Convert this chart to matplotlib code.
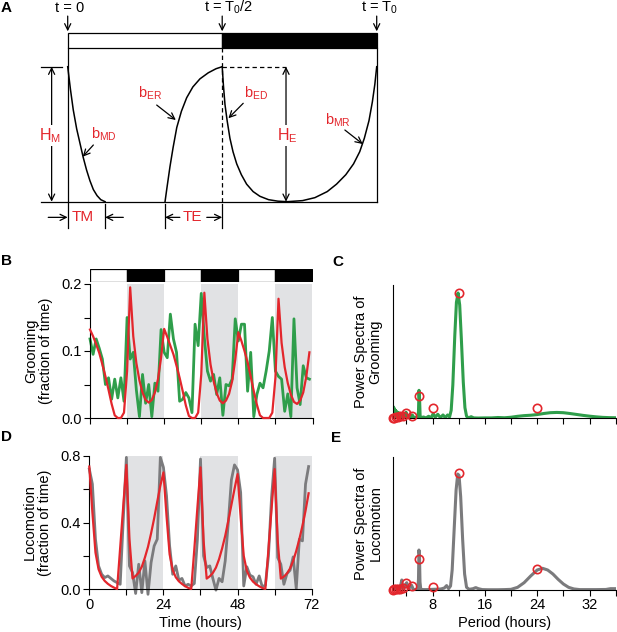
import matplotlib
matplotlib.use('Agg')
import matplotlib.pyplot as plt
import numpy as np

plt.rcParams['font.family'] = ['Liberation Sans', 'DejaVu Sans']
plt.rcParams['mathtext.fontset'] = 'custom'
plt.rcParams['mathtext.rm'] = 'Liberation Sans'
plt.rcParams['mathtext.it'] = 'Liberation Sans:italic'
plt.rcParams['mathtext.bf'] = 'Liberation Sans:bold'
plt.rcParams['mathtext.default'] = 'regular'

RED = '#e3262c'
GREEN = '#2f9e4b'
GRAY = '#7b7b7d'
SHADE = '#e1e2e4'

# ---------------- data ----------------
hours = list(range(72))
groom_obs = [0.118, 0.095, 0.118, 0.104, 0.088, 0.050, 0.060, 0.028, 0.058, 0.030, 0.060, 0.025,
             0.150, 0.088, 0.098, 0.042, 0.002, 0.065, 0.022, 0.050, 0.002, 0.052, 0.040, 0.132,
             0.098, 0.090, 0.155, 0.118, 0.098, 0.025, 0.028, 0.038, 0.030, 0.008, 0.140, 0.108,
             0.186, 0.120, 0.070, 0.055, 0.065, 0.035, 0.060, 0.004, 0.050, 0.048, 0.058, 0.148,
             0.115, 0.140, 0.140, 0.040, 0.098, 0.002, 0.035, 0.052, 0.045, 0.070, 0.100, 0.150,
             0.070, 0.062, 0.058, 0.010, 0.036, 0.002, 0.148, 0.045, 0.020, 0.078, 0.060, 0.058]
groom_fit = [0.132, 0.122, 0.110, 0.097, 0.080, 0.062, 0.042, 0.021, 0.004, 0.0, 0.0, 0.008,
             0.070, 0.195, 0.122, 0.082, 0.056, 0.038, 0.027, 0.023, 0.027, 0.038, 0.058, 0.090,
             0.133, 0.121, 0.108, 0.095, 0.078, 0.060, 0.040, 0.019, 0.003, 0.0, 0.0, 0.008,
             0.065, 0.187, 0.118, 0.080, 0.055, 0.037, 0.026, 0.022, 0.026, 0.036, 0.055, 0.087,
             0.128, 0.115, 0.100, 0.083, 0.062, 0.040, 0.020, 0.004, 0.0, 0.0, 0.0, 0.008,
             0.060, 0.178, 0.112, 0.076, 0.052, 0.035, 0.024, 0.021, 0.026, 0.038, 0.062, 0.098]
loco_obs = [0.72, 0.63, 0.30, 0.14, 0.09, 0.07, 0.08, 0.065, 0.05, 0.04, 0.03, 0.42,
            0.79, 0.14, 0.10, -0.025, 0.15, -0.02, 0.17, -0.03, 0.16, 0.26, 0.30, 0.79,
            0.73, 0.56, 0.26, 0.09, 0.14, 0.055, 0.065, 0.02, 0.03, 0.02, 0.035, 0.30,
            0.78, 0.20, 0.13, 0.14, 0.065, -0.005, 0.065, 0.045, 0.17, 0.40, 0.655, 0.745,
            0.715, 0.58, 0.02, 0.135, 0.085, 0.075, 0.03, 0.08, 0.015, 0.025, 0.20, 0.55,
            0.785, 0.19, 0.15, 0.03, 0.094, 0.114, 0.194, 0.004, 0.30, 0.29, 0.63, 0.735]
loco_fit = [0.735, 0.46, 0.22, 0.12, 0.075, 0.05, 0.033, 0.02, 0.01, 0.002, 0.25, 0.50,
            0.745, 0.30, 0.065, 0.08, 0.10, 0.135, 0.19, 0.254, 0.335, 0.425, 0.525, 0.62,
            0.70, 0.44, 0.21, 0.115, 0.072, 0.048, 0.032, 0.019, 0.009, 0.002, 0.24, 0.49,
            0.73, 0.29, 0.064, 0.078, 0.098, 0.13, 0.18, 0.245, 0.32, 0.41, 0.505, 0.60,
            0.69, 0.43, 0.20, 0.11, 0.07, 0.046, 0.03, 0.018, 0.008, 0.002, 0.24, 0.48,
            0.72, 0.29, 0.064, 0.076, 0.095, 0.125, 0.17, 0.23, 0.30, 0.38, 0.47, 0.575]

phase_starts = [0, 12, 24, 36, 48, 60]
phase_colors = ['white', 'black', 'white', 'black', 'white', 'black']
dark_starts = [12, 36, 60]

# power spectra (period in hours, arbitrary power units)
groom_period = [2.0, 2.04, 2.08, 2.12, 2.17, 2.22, 2.28, 2.35, 2.42, 2.5, 2.58, 2.67, 2.76, 2.86,
                2.97, 3.08, 3.2, 3.33, 3.47, 3.62, 3.78, 3.95, 4.15, 4.4, 4.65, 4.9, 5.2, 5.5,
                5.75, 5.85, 5.93, 6.02, 6.1, 6.25, 6.6, 7.0, 7.4, 7.8, 8.1, 8.4, 8.8, 9.2, 9.6,
                9.95, 10.3, 10.6, 10.85, 11.1, 11.4, 11.65, 11.9, 12.15, 12.4, 12.7, 12.95, 13.2,
                13.5, 13.9, 14.3, 15, 16, 17, 18, 19, 20, 21, 22, 23, 24, 25, 26, 27, 28, 29, 30,
                31, 32, 33, 34, 35, 36]
groom_power = [0.3, 8.5, 0.5, 7.5, 0.5, 6.5, 0.5, 6.0, 0.5, 5.0, 0.5, 4.5, 0.5, 4.0,
               0.5, 3.5, 0.5, 3.5, 0.5, 3.0, 0.5, 4.5, 0.5, 2.0, 0.5, 2.5, 0.3, 0.8,
               0.3, 5.0, 21.0, 14.0, 2.0, 0.3, 1.0, 0.3, 1.5, 0.5, 3.5, 0.8, 3.0, 0.5, 2.5,
               0.5, 2.5, 1.0, 6.0, 25.0, 62.0, 87.0, 94.0, 85.0, 60.0, 27.0, 8.0, 1.5,
               0.3, 1.2, 0.3, 0.2, 0.3, 0.3, 0.6, 0.4, 0.8, 1.5, 2.0, 2.3, 2.8, 3.6, 4.2, 4.4,
               4.2, 3.6, 2.9, 2.2, 1.6, 1.1, 0.7, 0.5, 0.4]
loco_period = [2.0, 2.05, 2.1, 2.2, 2.3, 2.45, 2.6, 2.8, 3.0, 3.15, 3.3, 3.45, 3.65, 3.85, 4.05,
               4.3, 4.55, 4.8, 5.05, 5.4, 5.75, 5.85, 5.92, 6.0, 6.08, 6.2, 6.6, 7.2, 8.0, 8.7,
               9.3, 9.8, 10.15, 10.45, 10.75, 11.0, 11.3, 11.6, 11.85, 12.05, 12.3, 12.6, 12.9,
               13.2, 13.6, 14.2, 14.6, 15.0, 15.6, 16.5, 18, 19, 20, 21, 22, 23, 24, 24.8,
               25.6, 26.4, 27.2, 28, 28.8, 29.6, 30.5, 31.5, 33, 34.5, 35.2, 36]
loco_power = [0.3, 1.5, 0.3, 2.5, 0.3, 2.0, 0.3, 2.5, 0.5, 4.0, 7.5, 1.0, 1.5, 4.0, 5.5,
              1.0, 2.0, 3.5, 0.5, 0.3, 0.5, 8.0, 30.0, 26.0, 6.0, 0.5, 0.3, 0.3, 0.5, 0.6,
              0.8, 1.5, 3.3, 1.0, 3.0, 15.0, 45.0, 75.0, 87.0, 86.0, 70.0, 38.0, 12.0,
              2.0, 0.5, 1.0, 1.8, 1.0, 0.3, 0.2, 0.2, 0.3, 0.5, 2.0, 5.5, 10.5, 15.0, 16.3,
              15.0, 12.0, 8.0, 4.5, 2.0, 0.8, 0.3, 0.3, 0.3, 0.4, 1.0, 1.0]
harmonic_period = [24, 12, 8, 6, 4.8, 4, 3.43, 3, 2.67, 2.4, 2.18, 2]
groom_harmonic = [7.5, 93.75, 7.5, 16.75, 2.0, 4.25, 2.0, 2.0, 0.8, 1.0, 0.5, 0.5]
loco_harmonic = [15.5, 87.5, 2.5, 23.0, 3.0, 5.0, 1.5, 0.8, 0.5, 0.5, 0.5, 0.3]

# schematic model curves for panel A (t in units of T0, height in units of H)
bMD_t = [0, 0.009, 0.018, 0.029, 0.04, 0.05, 0.061, 0.072, 0.083, 0.095, 0.107, 0.121]
bMD_h = [1, 0.83, 0.68, 0.54, 0.43, 0.33, 0.235, 0.155, 0.09, 0.045, 0.015, 0]
bER_t = [0.315, 0.321, 0.331, 0.341, 0.353, 0.368, 0.385, 0.405, 0.428, 0.455, 0.48, 0.5]
bER_h = [0, 0.1, 0.26, 0.4, 0.55, 0.67, 0.77, 0.85, 0.91, 0.955, 0.985, 1]
bED_t = [0.5, 0.504, 0.509, 0.516, 0.525, 0.535, 0.547, 0.562, 0.579, 0.6, 0.622, 0.65, 0.68, 0.71]
bED_h = [1, 0.86, 0.72, 0.6, 0.47, 0.37, 0.28, 0.2, 0.13, 0.075, 0.04, 0.015, 0.004, 0]
bMR_t = [0.71, 0.76, 0.8, 0.84, 0.87, 0.9, 0.925, 0.945, 0.96, 0.975, 0.986, 0.994, 1.0]
bMR_h = [0, 0.008, 0.03, 0.075, 0.13, 0.2, 0.28, 0.37, 0.47, 0.6, 0.74, 0.87, 1.0]
TM_end = 0.121
TE_start = 0.315
HE_pos = 0.7065
HM_pos = -0.052

# ---------------- figure ----------------
W, H = 617, 632
fig = plt.figure(figsize=(W / 100, H / 100), dpi=100)


def px_axes(x0, y0, x1, y1):
    return fig.add_axes([x0 / W, 1 - y1 / H, (x1 - x0) / W, (y1 - y0) / H])


# ---------- Panel A ----------
axA = px_axes(0, 0, 400, 240)
axA.set_xlim(-0.2191, 1.0754)
axA.set_ylim(-0.2837, 1.4941)
axA.axis('off')
lw = 0.9
k = 'black'
bar_lo, bar_hi = 1.136, 1.247
axA.add_patch(plt.Rectangle((0, bar_lo), 0.5, bar_hi - bar_lo, fc='white', ec=k, lw=lw))
axA.add_patch(plt.Rectangle((0.5, bar_lo), 0.5, bar_hi - bar_lo, fc='black', ec=k, lw=lw))
axA.plot([0, 0], [-0.197, bar_lo], color=k, lw=lw)
axA.plot([1, 1], [0, bar_lo], color=k, lw=lw)
axA.plot([-0.088, 1], [0, 0], color=k, lw=lw)
axA.plot([-0.088, -0.02], [1, 1], color=k, lw=lw)
axA.plot([0.5, 0.5], [0, bar_lo], color=k, lw=lw, ls=(0, (3.5, 2.5)))
axA.plot([0.5, HE_pos], [1, 1], color=k, lw=lw, ls=(0, (3.5, 2.5)))
for xv in [TM_end, TE_start, 0.5]:
    axA.plot([xv, xv], [-0.015, -0.197], color=k, lw=lw)
for xs, ys in [(bMD_t, bMD_h), (bER_t, bER_h), (bED_t, bED_h), (bMR_t, bMR_h)]:
    axA.plot(xs, ys, color=k, lw=1.1)

arr = dict(arrowstyle='->,head_length=0.45,head_width=0.22', lw=lw, color=k,
           shrinkA=0, shrinkB=0)
darr = dict(arrowstyle='<->,head_length=0.45,head_width=0.22', lw=lw, color=k,
            shrinkA=0, shrinkB=0)
axA.annotate('', xy=(HM_pos, 0), xytext=(HM_pos, 1), arrowprops=darr)
axA.annotate('', xy=(HE_pos, 0), xytext=(HE_pos, 1), arrowprops=darr)
for xv in [0, 0.5, 1]:
    axA.annotate('', xy=(xv, 1.262), xytext=(xv, 1.375), arrowprops=arr)
yTM = -0.116
axA.annotate('', xy=(0, yTM), xytext=(-0.063, yTM), arrowprops=arr)
axA.annotate('', xy=(TM_end, yTM), xytext=(0.18, yTM), arrowprops=arr)
axA.annotate('', xy=(TE_start, yTM), xytext=(0.363, yTM), arrowprops=arr)
axA.annotate('', xy=(0.5, yTM), xytext=(0.45, yTM), arrowprops=arr)

wb = dict(fc='white', ec='none', pad=1.0)
axA.text(HM_pos - 0.004, 0.49, 'H$_M$', color=RED, fontsize=11.5, ha='center', va='center', bbox=wb)
axA.text(HE_pos + 0.004, 0.49, 'H$_E$', color=RED, fontsize=11.5, ha='center', va='center', bbox=wb)
axA.text(0.05, yTM, 'TM', color=RED, fontsize=11, ha='center', va='center')
axA.text(0.4045, yTM, 'TE', color=RED, fontsize=11, ha='center', va='center', bbox=wb)
axA.text(0.118, 0.50, 'b$_{MD}$', color=RED, fontsize=10.5, ha='center', va='center')
axA.text(0.266, 0.80, 'b$_{ER}$', color=RED, fontsize=10.5, ha='center', va='center')
axA.text(0.608, 0.80, 'b$_{ED}$', color=RED, fontsize=10.5, ha='center', va='center')
axA.text(0.873, 0.60, 'b$_{MR}$', color=RED, fontsize=10.5, ha='center', va='center')
axA.annotate('', xy=(0.0485, 0.333), xytext=(0.083, 0.42), arrowprops=arr)
axA.annotate('', xy=(0.35, 0.605), xytext=(0.288, 0.716), arrowprops=arr)
axA.annotate('', xy=(0.52, 0.618), xytext=(0.568, 0.729), arrowprops=arr)
axA.annotate('', xy=(0.955, 0.427), xytext=(0.897, 0.531), arrowprops=arr)
y_top = 1.405
axA.text(0.005, y_top, 't = 0', fontsize=10.5, ha='center', va='baseline')
axA.text(0.52, y_top, 't = T$_0$/2', fontsize=10.5, ha='center', va='baseline')
axA.text(1.01, y_top, 't = T$_0$', fontsize=10.5, ha='center', va='baseline')

# ---------- Panel B ----------
axBar = px_axes(90, 269.3, 312.5, 281.7)
axBar.bar(phase_starts, 1, width=12, align='edge', color=phase_colors, edgecolor='black', lw=0.9)
axBar.set_xlim(0, 72)
axBar.set_ylim(0, 1)
axBar.axis('off')

axB = px_axes(90, 284, 312.5, 418)
axD = px_axes(89.3, 455.7, 311.7, 589.3)
for ax in (axB, axD):
    for s in dark_starts:
        ax.axvspan(s, s + 12, color=SHADE, lw=0, zorder=0)
    ax.set_xlim(0, 72)
    ax.spines['top'].set_visible(False)
    ax.spines['right'].set_visible(False)
    for sp in ('left', 'bottom'):
        ax.spines[sp].set_linewidth(0.8)
    ax.tick_params(direction='out', length=4, width=0.8, labelsize=10.5, pad=2)
    ax.set_xticks(range(0, 73, 12))

axB.plot(hours, groom_obs, color=GREEN, lw=2.0, zorder=2, clip_on=False)
axB.plot(hours, groom_fit, color=RED, lw=1.6, zorder=3, clip_on=False)
axB.set_ylim(0, 0.2)
axB.set_yticks([0, 0.05, 0.1, 0.15, 0.2])
axB.set_yticklabels(['0.0', '', '0.1', '', '0.2'])
axB.set_xticklabels([])
axB.set_ylabel('Grooming\n(fraction of time)', fontsize=10.5, linespacing=1.1)
axB.yaxis.set_label_coords(-0.166, 0.5)

axD.plot(hours, loco_obs, color=GRAY, lw=2.0, zorder=2, clip_on=False)
axD.plot(hours, loco_fit, color=RED, lw=1.6, zorder=3, clip_on=False)
axD.set_ylim(0, 0.8)
axD.set_yticks([0, 0.2, 0.4, 0.6, 0.8])
axD.set_yticklabels(['0.0', '', '0.4', '', '0.8'])
axD.set_xticklabels(['0', '', '24', '', '48', '', '72'])
axD.set_ylabel('Locomotion\n(fraction of time)', fontsize=10.5, linespacing=1.1)
axD.yaxis.set_label_coords(-0.168, 0.5)
axD.set_xlabel('Time (hours)', fontsize=10.5)
axD.xaxis.set_label_coords(0.5, -0.2)

# ---------- Panels C & E ----------
axC = px_axes(393.3, 285, 615.7, 418.3)
axE = px_axes(393.3, 456.7, 615.7, 590)
for ax, per, pw, hv, col, lab in [(axC, groom_period, groom_power, groom_harmonic, GREEN,
                                   'Power Spectra of\nGrooming'),
                                  (axE, loco_period, loco_power, loco_harmonic, GRAY,
                                   'Power Spectra of\nLocomotion')]:
    ax.plot(per, pw, color=col, lw=2.2, zorder=2)
    ax.plot(harmonic_period, hv, ls='none', marker='o', ms=6, mfc='none', mec=RED, mew=1.2, zorder=3,
            clip_on=False)
    ax.set_xlim(2, 36)
    ax.set_ylim(0, 100)
    ax.spines['top'].set_visible(False)
    ax.spines['right'].set_visible(False)
    ax.spines['left'].set_linewidth(0.8)
    ax.spines['bottom'].set_linewidth(0.8)
    ax.set_yticks([])
    ax.set_xticks(range(4, 37, 4))
    ax.tick_params(direction='out', length=4, width=0.8, labelsize=10.5, pad=2)
    ax.set_ylabel(lab, fontsize=10.5, linespacing=1.1)
    ax.yaxis.set_label_coords(-0.048, 0.5)
axC.set_xticklabels([])
axE.set_xticklabels(['' if v % 8 else str(v) for v in range(4, 37, 4)])
axE.set_xlabel('Period (hours)', fontsize=10.5)
axE.xaxis.set_label_coords(0.5, -0.195)

# panel letters
for letter, x, y in [('A', 6, 8), ('B', 6, 261), ('C', 338, 262), ('D', 6, 437), ('E', 336, 438)]:
    fig.text(x / W, 1 - y / H, letter, fontsize=11, fontweight='bold', ha='center', va='center')

fig.savefig('out.png', dpi=100)
